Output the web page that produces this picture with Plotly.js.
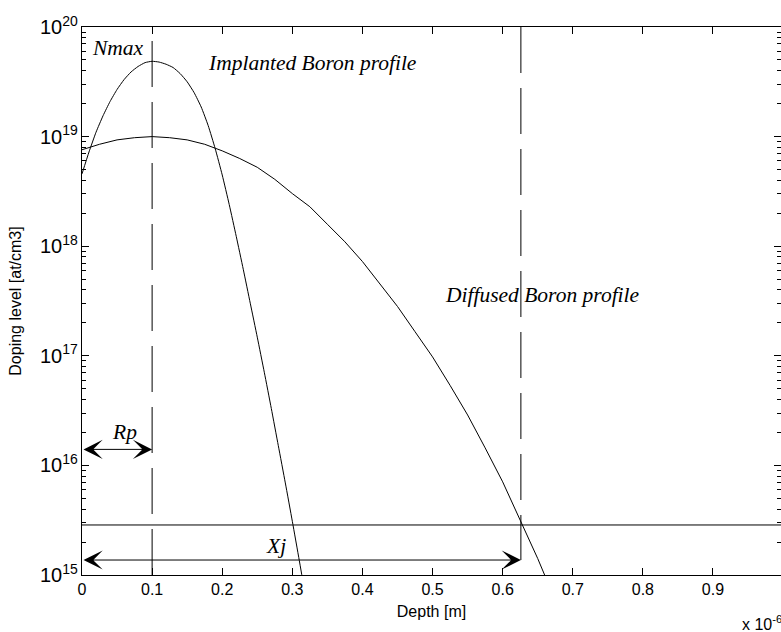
<!DOCTYPE html>
<html>
<head>
<meta charset="utf-8">
<script src="https://cdn.plot.ly/plotly-3.0.1.min.js"></script>
<style>html,body{margin:0;padding:0;background:#fff;}#chart{width:781px;height:632px;}</style>
</head>
<body>
<div id="chart"></div>
<script>
// Depth in units of 1e-6 m
const implantedDepth = [0.00,0.01,0.02,0.03,0.04,0.05,0.06,0.07,0.08,0.09,0.10,0.11,0.12,0.13,0.14,0.15,0.16,0.17,0.18,0.19,0.20,0.21,0.22,0.23,0.24,0.25,0.26,0.27,0.28,0.29,0.30,0.31,0.32];
const implantedLog = [18.66,18.86,19.04,19.19,19.32,19.43,19.52,19.59,19.64,19.675,19.687,19.68,19.66,19.63,19.575,19.50,19.40,19.27,19.10,18.89,18.65,18.38,18.09,17.79,17.48,17.17,16.85,16.52,16.18,15.84,15.49,15.13,14.76];

const diffusedDepth = [0.000,0.025,0.050,0.075,0.100,0.125,0.150,0.175,0.200,0.225,0.250,0.275,0.300,0.325,0.350,0.375,0.400,0.425,0.450,0.475,0.500,0.525,0.550,0.575,0.600,0.625,0.650,0.675];
const diffusedLog = [18.88,18.93,18.97,18.99,19.00,18.99,18.97,18.93,18.87,18.80,18.72,18.61,18.48,18.36,18.20,18.04,17.86,17.66,17.45,17.22,16.99,16.73,16.46,16.16,15.85,15.50,15.15,14.77];

const xTickVals = [0,0.1,0.2,0.3,0.4,0.5,0.6,0.7,0.8,0.9];
const xTickText = ['0','0.1','0.2','0.3','0.4','0.5','0.6','0.7','0.8','0.9'];
const yDecades = [15,16,17,18,19];
const yMinorMultipliers = [2,3,4,5,6,7,8,9];

const rpDepth = 0.1;          // projected range
const xjDepth = 0.626;        // junction depth
const bulkLevel = 2.86e15;    // background doping
const rpArrowLevel = 1.4e16;
const xjArrowLevel = 1.37e15;
const yMin = 1e15, yMax = 1e20;

const labels = [
  {text:'Nmax', x:0.0516, y:6.5e19, anchor:'center'},
  {text:'Implanted Boron profile', x:0.329, y:4.65e19, anchor:'center'},
  {text:'Diffused Boron profile', x:0.5145, y:3.57e17, anchor:'left'},
  {text:'Rp', x:0.061, y:2.0e16, anchor:'center'},
  {text:'Xj', x:0.2763, y:1.85e15, anchor:'center'}
];

const pow10 = a => a.map(v => Math.pow(10, v));
const line = {color:'black', width:1};

const minorVals = [];
yDecades.forEach(d => yMinorMultipliers.forEach(m => minorVals.push(m * Math.pow(10, d))));

const traces = [
  {x: implantedDepth, y: pow10(implantedLog), mode:'lines', line:{color:'black', width:1, shape:'spline', smoothing:0.5}, hoverinfo:'skip'},
  {x: diffusedDepth, y: pow10(diffusedLog), mode:'lines', line: line, hoverinfo:'skip'},
  {x: [rpDepth, rpDepth], y: [yMin, yMax], mode:'lines', line:{color:'black', width:1, dash:'46px,15px'}, hoverinfo:'skip'},
  {x: [xjDepth, xjDepth], y: [yMax, xjArrowLevel], mode:'lines', line:{color:'black', width:1, dash:'46px,15px'}, hoverinfo:'skip'},
  {x: [0, 1], y: [bulkLevel, bulkLevel], mode:'lines', line: line, hoverinfo:'skip'},
  {x: [0.5], y: [1e17], yaxis:'y2', mode:'markers', marker:{size:1, opacity:0}, hoverinfo:'skip'}
];

const serif = {family:'"Liberation Serif", "Times New Roman", serif', size:21.5, color:'black'};
const annotations = labels.map(l => ({
  text: '<i>' + l.text + '</i>', x: l.x, y: Math.log10(l.y), xref:'x', yref:'y',
  showarrow:false, xanchor:l.anchor, yanchor:'middle', font: serif
}));

function dblArrow(x0, x1, level) {
  return {text:'', x:x1, y:Math.log10(level), ax:x0, ay:Math.log10(level),
    xref:'x', yref:'y', axref:'x', ayref:'y', showarrow:true,
    arrowside:'end+start', arrowhead:3, startarrowhead:3,
    arrowsize:3.2, startarrowsize:3.2, arrowwidth:1, arrowcolor:'black',
    standoff:0, startstandoff:0};
}
annotations.push(dblArrow(0, rpDepth, rpArrowLevel));
annotations.push(dblArrow(0, xjDepth, xjArrowLevel));
annotations.push({text:'x 10<sup>-6</sup>', xref:'paper', yref:'paper', x:0.9413, y:-0.0876,
  xanchor:'left', yanchor:'middle', showarrow:false,
  font:{family:'"Liberation Sans", Arial, sans-serif', size:16, color:'black'}});

const sans = {family:'"Liberation Sans", Arial, sans-serif', size:16, color:'black'};
const layout = {
  width:781, height:632,
  margin:{l:82, r:0, t:27, b:57},
  paper_bgcolor:'white', plot_bgcolor:'white',
  showlegend:false,
  font: sans,
  xaxis:{
    range:[0, 0.997], tickvals:xTickVals, ticktext:xTickText,
    ticks:'inside', ticklen:7, tickcolor:'black', tickwidth:1,
    showline:true, linecolor:'black', linewidth:1, mirror:'ticks',
    showgrid:false, zeroline:false, tickfont:sans,
    title:{text:'Depth [m]', font:{family:sans.family, size:16, color:'black'}, standoff:8}
  },
  yaxis:{
    type:'log', range:[15, 20], dtick:1, exponentformat:'power',
    ticks:'inside', ticklen:7, tickcolor:'black', tickwidth:1,
    showline:true, linecolor:'black', linewidth:1, mirror:'ticks',
    showgrid:false, zeroline:false, tickfont:sans,
    title:{text:'Doping level [at/cm3]', font:{family:sans.family, size:16, color:'black'}, standoff:14}
  },
  yaxis2:{
    type:'log', range:[15, 20], overlaying:'y', side:'left', anchor:'x',
    tickmode:'array', tickvals:minorVals, showticklabels:false,
    ticks:'inside', ticklen:4, tickcolor:'black', tickwidth:1,
    showline:false, mirror:'ticks',
    showgrid:false, zeroline:false
  },
  annotations: annotations
};

Plotly.newPlot('chart', traces, layout, {staticPlot:true, displayModeBar:false});
</script>
</body>
</html>
